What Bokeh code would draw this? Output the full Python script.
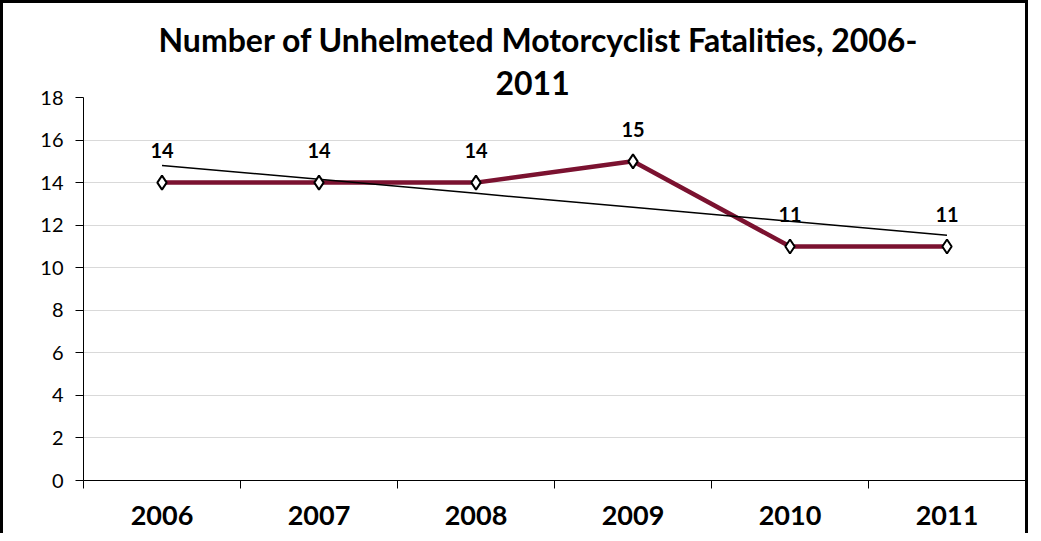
import numpy as np
from bokeh.plotting import figure
from bokeh.models import FixedTicker, Title, Range1d, ColumnDataSource
from bokeh.embed import file_html
from bokeh.resources import INLINE

years = ["2006", "2007", "2008", "2009", "2010", "2011"]
values = [14, 14, 14, 15, 11, 11]
y_ticks = [0, 2, 4, 6, 8, 10, 12, 14, 16, 18]
title_line1 = "Number of Unhelmeted Motorcyclist Fatalities, 2006-"
title_line2 = "2011"

xs = list(range(1, len(years) + 1))
slope, intercept = np.polyfit(xs, values, 1)
trend = [slope * x + intercept for x in xs]

FONT = "Lato"

p = figure(width=1028, height=533, output_backend="svg", toolbar_location=None,
           x_range=Range1d(0.5, 6.5), y_range=Range1d(0, 18),
           min_border_left=80, min_border_right=6, min_border_bottom=56, min_border_top=94,
           background_fill_color="white", border_fill_color="white")
p.styles = {"border-top": "3px solid black", "border-left": "3px solid black",
            "border-right": "3px solid black", "box-sizing": "border-box"}
p.outline_line_color = None

p.add_layout(Title(text=title_line2, align="left", text_font=FONT, text_font_size="32px",
                   text_font_style="bold", text_color="black", offset=412, standoff=6), "above")
p.add_layout(Title(text=title_line1, align="left", text_font=FONT, text_font_size="32px",
                   text_font_style="bold", text_color="black", offset=75, standoff=14), "above")

# grid
p.xgrid.visible = False
p.ygrid.grid_line_color = "#D9D9D9"
p.ygrid.grid_line_width = 1

# axes
p.yaxis.ticker = FixedTicker(ticks=y_ticks)
p.yaxis.axis_line_color = "black"
p.yaxis.axis_line_width = 1
p.yaxis.major_tick_line_color = "black"
p.yaxis.major_tick_out = 8
p.yaxis.major_tick_in = 0
p.yaxis.minor_tick_line_color = None
p.yaxis.major_label_text_font = FONT
p.yaxis.major_label_text_font_size = "20px"
p.yaxis.major_label_text_color = "black"
p.yaxis.major_label_standoff = 12

p.xaxis.ticker = FixedTicker(ticks=xs, minor_ticks=[x + 0.5 for x in range(0, len(years) + 1)])
p.xaxis.major_label_overrides = {x: y for x, y in zip(xs, years)}
p.xaxis.axis_line_color = "black"
p.xaxis.axis_line_width = 1
p.xaxis.major_tick_line_color = None
p.xaxis.minor_tick_line_color = "black"
p.xaxis.minor_tick_out = 8
p.xaxis.minor_tick_in = 0
p.xaxis.major_label_text_font = FONT
p.xaxis.major_label_text_font_size = "27px"
p.xaxis.major_label_text_font_style = "bold"
p.xaxis.major_label_text_color = "black"
p.xaxis.major_label_standoff = 17

src = ColumnDataSource(dict(x=xs, y=values, lbl=[str(v) for v in values], trend=trend))

p.line("x", "y", source=src, line_color="#7B1230", line_width=4.5)
p.line("x", "trend", source=src, line_color="black", line_width=1.5)
p.scatter("x", "y", source=src, marker="diamond", size=14, fill_color="white",
          line_color="black", line_width=2)
p.text("x", "y", text="lbl", source=src, y_offset=-32, text_align="center",
       text_baseline="middle", text_font_size="20px", text_font_style="bold",
       text_color="black", text_font={"value": FONT})

open("out.html", "w").write(file_html(p, INLINE))
